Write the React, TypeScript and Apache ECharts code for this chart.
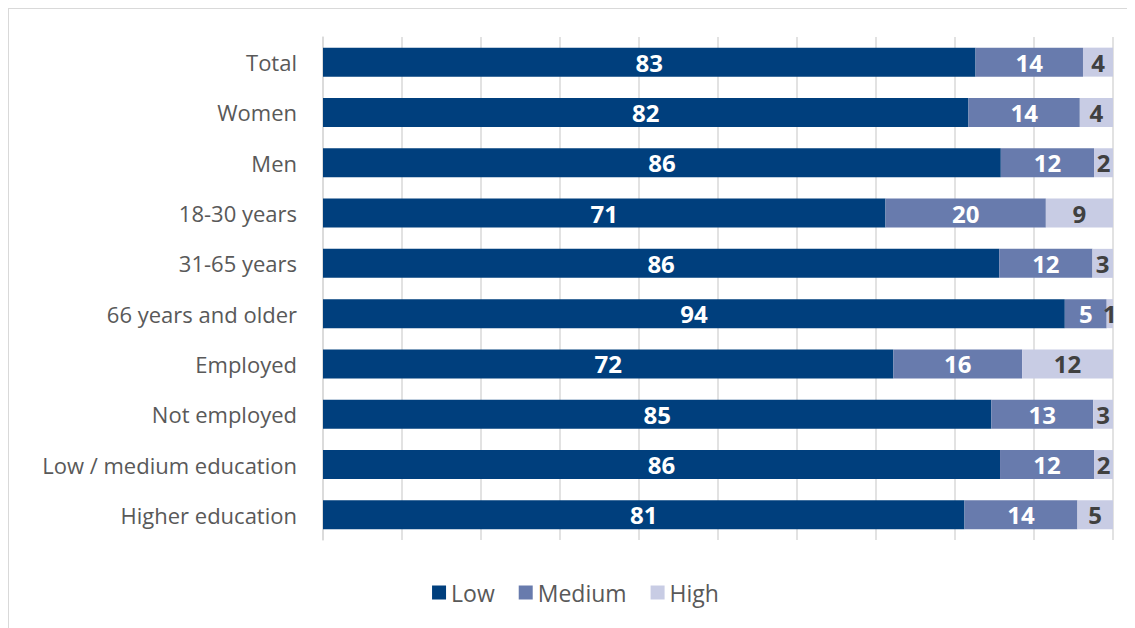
import React, { useEffect, useRef } from "react";
import * as echarts from "echarts";

const categories = [
  "Total",
  "Women",
  "Men",
  "18-30 years",
  "31-65 years",
  "66 years and older",
  "Employed",
  "Not employed",
  "Low / medium education",
  "Higher education",
];

const lowValues = [82.6, 81.7, 85.8, 71.2, 85.6, 93.9, 72.2, 84.6, 85.7, 81.2];
const mediumValues = [13.6, 14.1, 11.8, 20.3, 11.8, 5.3, 16.3, 12.9, 11.9, 14.3];
const highValues = [3.8, 4.2, 2.4, 8.5, 2.6, 0.8, 11.5, 2.5, 2.4, 4.5];

const seriesNames = ["Low", "Medium", "High"];
const seriesColors = ["#003f7d", "#687bad", "#c8cce4"];
const labelColors = ["#ffffff", "#ffffff", "#404040"];

const FONT = "'Open Sans', 'Noto Sans', sans-serif";

export default function App() {
  const ref = useRef<HTMLDivElement>(null);

  useEffect(() => {
    if (!ref.current) return;
    const chart = echarts.init(ref.current, null, { renderer: "svg" });
    const dataSets = [lowValues, mediumValues, highValues];
    chart.setOption({
      animation: false,
      textStyle: { fontFamily: FONT },
      grid: { left: 314, right: 29, top: 28, bottom: 95, containLabel: false },
      legend: {
        data: seriesNames,
        bottom: 26,
        left: "center",
        itemWidth: 14,
        itemHeight: 14,
        itemGap: 24,
        icon: "rect",
        textStyle: { fontFamily: FONT, fontSize: 23, color: "#595959" },
      },
      xAxis: {
        type: "value",
        min: 0,
        max: 100,
        interval: 10,
        axisLabel: { show: false },
        axisLine: { show: false },
        axisTick: { show: false },
        splitLine: { show: true, lineStyle: { color: "#d9d9d9", width: 1.5 } },
      },
      yAxis: {
        type: "category",
        data: categories,
        inverse: true,
        axisTick: { show: false },
        axisLine: { show: true, lineStyle: { color: "#d9d9d9", width: 1.5 } },
        axisLabel: {
          fontFamily: FONT,
          fontSize: 22,
          color: "#595959",
          margin: 26,
        },
      },
      series: seriesNames.map((name, i) => ({
        name,
        type: "bar",
        stack: "total",
        barWidth: 29,
        itemStyle: { color: seriesColors[i] },
        label: {
          show: true,
          position: "inside",
          color: labelColors[i],
          fontFamily: FONT,
          fontWeight: "bold",
          fontSize: 24,
          formatter: (p: any) => String(Math.round(p.value)),
        },
        data: dataSets[i],
      })),
    });
    return () => chart.dispose();
  }, []);

  return (
    <div
      ref={ref}
      style={{
        width: 1135,
        height: 628,
        boxSizing: "border-box",
        border: "1.5px solid #d9d9d9",
      }}
    />
  );
}
